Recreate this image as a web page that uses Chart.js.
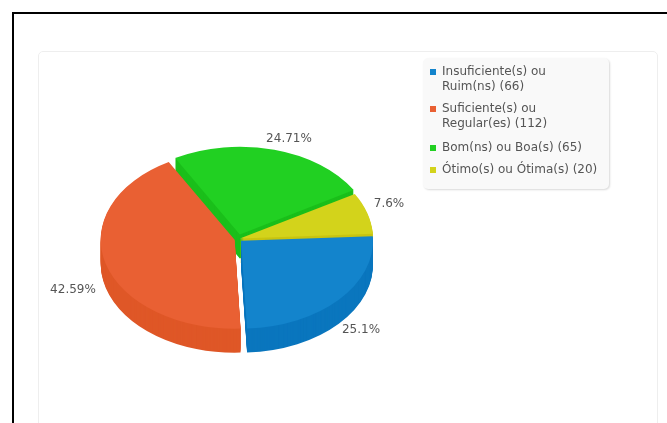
<!DOCTYPE html>
<html>
<head>
<meta charset="utf-8">
<style>
  html, body { margin: 0; padding: 0; background: #fff; overflow: hidden; }
  #page { position: relative; width: 667px; height: 423px; overflow: hidden; font-family: "DejaVu Sans", sans-serif; filter: blur(0.35px); }
  #frame { position: absolute; left: 12px; top: 12px; width: 700px; height: 500px; border: 2px solid #000; }
  #card { position: absolute; left: 38px; top: 51px; width: 618px; height: 420px; border: 1px solid #eee; border-radius: 5px; }
  canvas { position: absolute; left: 0; top: 0; }
  #legend { position: absolute; left: 423px; top: 58px; width: 186px; height: 131px; box-sizing: border-box; background: #f9f9f9;
    border-radius: 5px; box-shadow: 1px 1px 2px rgba(0,0,0,0.15); padding: 6px 6px 0 7px; color: #555; font-size: 12px; line-height: 15px; }
  .item { position: relative; padding-left: 12px; margin-bottom: 7px; }
  .item:nth-child(2) { margin-bottom: 9px; }
  .item i { position: absolute; left: 0; top: 5px; width: 6px; height: 6px; }
</style>
</head>
<body>
<div id="page">
  <div id="frame"></div>
  <div id="card"></div>
  <canvas id="chart" width="667" height="423"></canvas>
  <div id="legend"></div>
</div>
<script src="https://cdn.jsdelivr.net/npm/chart.js@4/dist/chart.umd.min.js"></script>
<script>
// ====== DATA ======
const categorias = ["Insuficiente(s) ou Ruim(ns)", "Suficiente(s) ou Regular(es)", "Bom(ns) ou Boa(s)", "Ótimo(s) ou Ótima(s)"];
const legendaLinhas = [["Insuficiente(s) ou", "Ruim(ns) (66)"], ["Suficiente(s) ou", "Regular(es) (112)"], ["Bom(ns) ou Boa(s) (65)"], ["Ótimo(s) ou Ótima(s) (20)"]];
const valores = [66, 112, 65, 20];
const percentuais = ["25.1%", "42.59%", "24.71%", "7.6%"];

// ====== ESTILO ======
const cores = ["#1384cc", "#e96033", "#21d022", "#d3d31b"];
const coresLateral = ["#0a76be", "#df5727", "#1abf1a", "#c8c410"];
const deslocamentos = [16, 14, 28, 8];
const posRotulos = [[361, 330], [73, 290], [289, 139], [389, 204]];
const achatamento = 0.665;
const profundidade = 24;
const centroY = 239;

// ====== LEGENDA ======
const legenda = document.getElementById("legend");
legendaLinhas.forEach((linhas, i) => {
  const item = document.createElement("div");
  item.className = "item";
  item.innerHTML = `<i style="background:${cores[i]}"></i>` + linhas.join("<br>");
  legenda.appendChild(item);
});

// ====== EFEITO 3D ======
const pizza3d = {
  id: "pizza3d",
  beforeDatasetsDraw(chart) {
    const ctx = chart.ctx;
    const arcos = chart.getDatasetMeta(0).data;
    const cy = arcos[0].y;
    ctx.save();
    ctx.translate(0, centroY);
    ctx.scale(1, achatamento);
    ctx.translate(0, -cy);
    // desenha de tras para frente
    [2, 3, 1, 0].forEach((i) => {
      const arco = arcos[i];
      const original = arco.options;
      arco.options = Object.assign({}, original, { backgroundColor: coresLateral[i], borderColor: coresLateral[i] });
      for (let d = profundidade; d > 0; d--) {
        ctx.save();
        ctx.translate(0, d / achatamento);
        arco.draw(ctx);
        ctx.restore();
      }
      arco.options = original;
    });
  },
  afterDatasetsDraw(chart) {
    const ctx = chart.ctx;
    ctx.restore();
    ctx.save();
    ctx.font = '12px "DejaVu Sans", sans-serif';
    ctx.fillStyle = "#555";
    ctx.textAlign = "center";
    ctx.textBaseline = "middle";
    percentuais.forEach((t, i) => ctx.fillText(t, posRotulos[i][0], posRotulos[i][1]));
    ctx.restore();
  },
};

// ====== GRAFICO ======
new Chart(document.getElementById("chart"), {
  type: "pie",
  data: {
    labels: categorias,
    datasets: [{ data: valores, backgroundColor: cores, borderWidth: 0, offset: deslocamentos }],
  },
  options: {
    responsive: false,
    animation: false,
    rotation: 87,
    radius: 132,
    layout: { padding: { left: 0, right: 191, top: 0, bottom: 0 } },
    plugins: { legend: { display: false }, tooltip: { enabled: false } },
  },
  plugins: [pizza3d],
});
</script>
</body>
</html>
